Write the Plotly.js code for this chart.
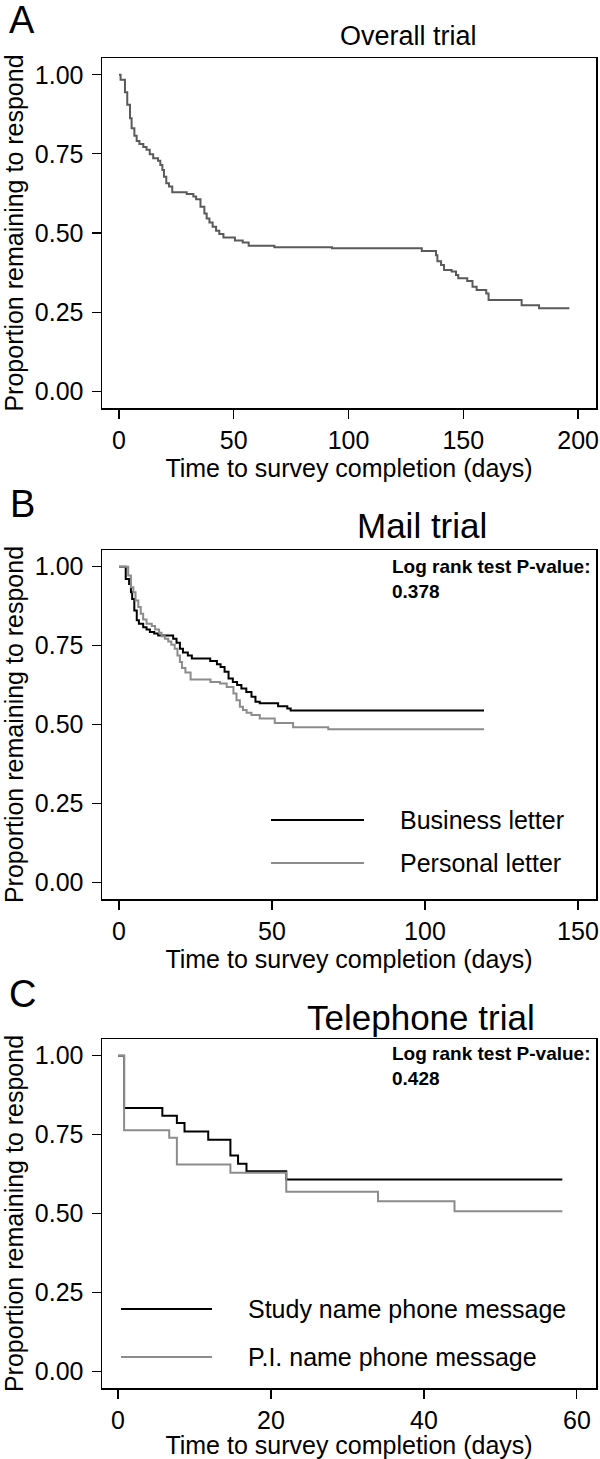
<!DOCTYPE html>
<html>
<head>
<meta charset="utf-8">
<script src="https://cdn.plot.ly/plotly-3.0.1.min.js"></script>
<style>html,body{margin:0;padding:0;background:#fff;}#chart{width:600px;height:1459px;}</style>
</head>
<body>
<div id="chart"></div>
<script>
// ---------- DATA ----------
// Panel A: overall trial (Kaplan-Meier)
const overallDays = [0,0.7,2.6,3.6,4.8,5.5,6.7,7.7,8.9,10.6,12,13.4,14.9,17,18,18.9,19.6,20.6,21.8,23.2,29.5,32.4,33.6,35.5,37.2,38.2,39.4,40.8,42.3,43.7,45.5,50.5,53.9,56.5,67.7,92.8,131.9,138.1,138.7,140.3,141.6,144.9,146.8,147.8,151.7,154,155.8,160,161,175.4,183,196.2];
const overallSurv = [1.0,0.984,0.945,0.905,0.863,0.831,0.807,0.791,0.781,0.772,0.763,0.749,0.736,0.728,0.715,0.699,0.678,0.657,0.647,0.629,0.623,0.615,0.607,0.583,0.562,0.546,0.533,0.52,0.507,0.497,0.486,0.476,0.47,0.46,0.455,0.452,0.443,0.43,0.411,0.399,0.383,0.378,0.367,0.357,0.348,0.33,0.32,0.309,0.288,0.272,0.262,0.262];

// Panel B: mail trial
const businessDays = [0,2.2,3.3,3.9,4.3,5.0,5.8,6.5,7.9,9,10.1,11.5,12.8,17.7,18.8,19.9,20.9,22.5,23.8,29.8,32,33.2,34.5,35.8,37.2,38.6,40,41.6,43.3,44.6,46,52,55,56.1,119.3];
const businessSurv = [1.0,0.961,0.945,0.919,0.898,0.861,0.83,0.819,0.808,0.801,0.793,0.788,0.782,0.772,0.759,0.74,0.728,0.719,0.709,0.701,0.691,0.682,0.667,0.646,0.635,0.625,0.614,0.603,0.588,0.572,0.567,0.558,0.551,0.544,0.544];
const personalDays = [0,3.0,3.9,4.7,5.4,6.3,7.1,7.9,9,10.7,11.8,13.1,13.9,15,16.1,17.1,18.2,19.1,19.9,20.6,21.7,23.4,29.9,33,35.2,37.4,38.4,39.5,40.5,41.7,43.3,46,50.9,56.9,68.4,119.3];
const personalSurv = [1.0,0.972,0.935,0.919,0.893,0.872,0.851,0.833,0.819,0.812,0.801,0.791,0.78,0.772,0.763,0.753,0.74,0.719,0.698,0.679,0.665,0.643,0.635,0.63,0.619,0.598,0.577,0.556,0.546,0.537,0.53,0.519,0.505,0.491,0.485,0.485];

// Panel C: telephone trial
const studyDays = [0,0.8,5.8,7.7,8.7,11.8,14.7,15.7,16.8,22,58.1];
const studySurv = [1.0,0.834,0.81,0.787,0.76,0.734,0.684,0.658,0.634,0.608,0.608];
const piDays = [0,0.8,6.7,7.7,14.7,22,34,44,58.1];
const piSurv = [1.0,0.764,0.74,0.655,0.629,0.569,0.539,0.507,0.507];

const yTicks = [0,0.25,0.5,0.75,1];
const xTicksA = [0,50,100,150,200];
const xTicksB = [0,50,100,150];
const xTicksC = [0,20,40,60];

const panelTitles = ['Overall trial','Mail trial','Telephone trial'];
const panelLetters = ['A','B','C'];
const xTitle = 'Time to survey completion (days)';
const yTitle = 'Proportion remaining to respond';
const legendB = ['Business letter','Personal letter'];
const legendC = ['Study name phone message','P.I. name phone message'];
const pValueB = '0.378';
const pValueC = '0.428';

// ---------- LAYOUT HELPERS ----------
const W = 600, H = 1459;
const px = x => x / W;
const py = y => 1 - y / H;
const FONT = 'Liberation Sans, Arial, Helvetica, sans-serif';
const BLACK = '#000000', GRAY = '#8c8c8c', DGRAY = '#5a5a5a';

function xAxis(range, ticks, anchor) {
  return {
    domain: [px(102), px(596)], range: range, anchor: anchor,
    tickmode: 'array', tickvals: ticks, ticktext: ticks.map(String),
    showline: true, mirror: true, linecolor: BLACK, linewidth: 1.5,
    ticks: 'outside', ticklen: 9, tickwidth: 1.2, tickcolor: BLACK,
    showgrid: false, zeroline: false, ticklabelstandoff: 0,
    tickfont: {family: FONT, size: 25, color: BLACK},
    title: {text: xTitle, font: {family: FONT, size: 25, color: BLACK}, standoff: 6}
  };
}
function yAxis(top, bottom, anchor) {
  return {
    domain: [py(bottom), py(top)], range: [-0.053, 1.053], anchor: anchor,
    tickmode: 'array', tickvals: yTicks, ticktext: yTicks.map(v => v.toFixed(2)),
    showline: true, mirror: true, linecolor: BLACK, linewidth: 1.5,
    ticks: 'outside', ticklen: 9, tickwidth: 1.2, tickcolor: BLACK,
    showgrid: false, zeroline: false, ticklabelstandoff: 3,
    tickfont: {family: FONT, size: 25, color: BLACK},
    title: {text: yTitle, font: {family: FONT, size: 25, color: BLACK}, standoff: 11}
  };
}

const traces = [
  {x: overallDays, y: overallSurv, xaxis: 'x', yaxis: 'y', type: 'scatter', mode: 'lines',
   line: {shape: 'hv', color: DGRAY, width: 2}, name: 'Overall', showlegend: false},
  {x: businessDays, y: businessSurv, xaxis: 'x2', yaxis: 'y2', type: 'scatter', mode: 'lines',
   line: {shape: 'hv', color: BLACK, width: 2}, name: legendB[0], showlegend: false},
  {x: personalDays, y: personalSurv, xaxis: 'x2', yaxis: 'y2', type: 'scatter', mode: 'lines',
   line: {shape: 'hv', color: GRAY, width: 2}, name: legendB[1], showlegend: false},
  {x: studyDays, y: studySurv, xaxis: 'x3', yaxis: 'y3', type: 'scatter', mode: 'lines',
   line: {shape: 'hv', color: BLACK, width: 2}, name: legendC[0], showlegend: false},
  {x: piDays, y: piSurv, xaxis: 'x3', yaxis: 'y3', type: 'scatter', mode: 'lines',
   line: {shape: 'hv', color: GRAY, width: 2}, name: legendC[1], showlegend: false}
];

function txt(text, x, y, size, opts) {
  return Object.assign({text: text, xref: 'paper', yref: 'paper', x: px(x), y: py(y),
    showarrow: false, xanchor: 'center', yanchor: 'middle',
    font: {family: FONT, size: size, color: BLACK}}, opts || {});
}
const BOLDFONT = {family: 'Liberation Sans Narrow, Liberation Sans, Arial, sans-serif', size: 19, color: BLACK};

const annotations = [
  txt(panelLetters[0], 22, 20, 38),
  txt(panelLetters[1], 22, 504, 38),
  txt(panelLetters[2], 22, 994, 38),
  txt(panelTitles[0], 408, 36, 27),
  txt(panelTitles[1], 422, 526, 35),
  txt(panelTitles[2], 421, 1017, 35),
  txt('<b>Log rank test P-value:<br>' + pValueB + '</b>', 390, 579, 19, {xanchor: 'left', align: 'left', font: BOLDFONT}),
  txt('<b>Log rank test P-value:<br>' + pValueC + '</b>', 390, 1066, 19, {xanchor: 'left', align: 'left', font: BOLDFONT}),
  txt(legendB[0], 398, 820, 25, {xanchor: 'left'}),
  txt(legendB[1], 398, 863, 25, {xanchor: 'left'}),
  txt(legendC[0], 246, 1309, 25, {xanchor: 'left'}),
  txt(legendC[1], 246, 1357, 25, {xanchor: 'left'})
];

function legLine(x0, x1, y, color) {
  return {type: 'line', xref: 'paper', yref: 'paper', x0: px(x0), x1: px(x1), y0: py(y), y1: py(y),
          line: {color: color, width: 2}};
}
const shapes = [
  legLine(271, 364, 820, BLACK),
  legLine(271, 364, 863, GRAY),
  legLine(121, 212, 1309, BLACK),
  legLine(121, 212, 1357, GRAY)
];

const layout = {
  width: W, height: H,
  margin: {l: 0, r: 0, t: 0, b: 0, pad: 0},
  paper_bgcolor: '#ffffff', plot_bgcolor: '#ffffff',
  showlegend: false,
  xaxis: xAxis([-7.4, 207.8], xTicksA, 'y'),
  yaxis: yAxis(58, 408, 'x'),
  xaxis2: xAxis([-5.56, 155.9], xTicksB, 'y2'),
  yaxis2: yAxis(550, 899, 'x2'),
  xaxis3: xAxis([-2.09, 62.5], xTicksC, 'y3'),
  yaxis3: yAxis(1039, 1388, 'x3'),
  annotations: annotations,
  shapes: shapes
};

Plotly.newPlot('chart', traces, layout, {staticPlot: true, displayModeBar: false});
</script>
</body>
</html>
